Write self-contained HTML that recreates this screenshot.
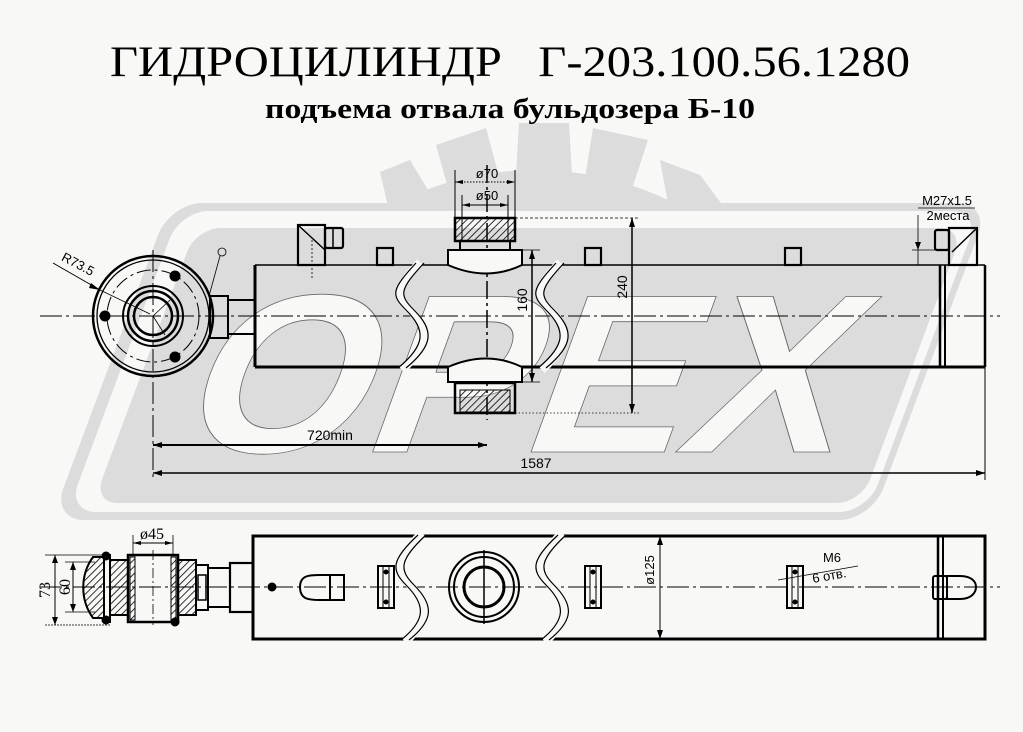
<!DOCTYPE html>
<html><head><meta charset="utf-8"><style>
html,body{margin:0;padding:0;background:#f8f8f6;width:1023px;height:732px;overflow:hidden;}
svg{display:block}
</style></head><body>
<svg width="1023" height="732" viewBox="0 0 1023 732" xmlns="http://www.w3.org/2000/svg" font-family="Liberation Sans, DejaVu Sans, sans-serif">
<defs>
<clipPath id="gc"><rect x="0" y="0" width="1023" height="215"/></clipPath>
<pattern id="h" width="5" height="5" patternUnits="userSpaceOnUse" patternTransform="rotate(45)"><line x1="0" y1="0" x2="0" y2="5" stroke="#000" stroke-width="1.6"/></pattern>
</defs>
<rect width="1023" height="732" fill="#f8f8f6"/>
<g clip-path="url(#gc)" fill="#dcdcdc">
<circle cx="535" cy="480" r="310"/>
<polygon points="519,123 569,123 572,175 516,175"/>
<polygon points="436,145 486,128 500,180 450,195"/>
<polygon points="593,128 648,140 630,195 585,178"/>
<polygon points="380,172 410,160 440,210 390,215"/>
<polygon points="660,160 700,175 730,215 670,215"/>
</g>
<g transform="translate(170,203) skewX(-20.5)"><rect x="0" y="0" width="820" height="317" rx="32" fill="#dcdcdc"/></g>
<g transform="translate(180,211) skewX(-20.5)"><rect x="0" y="0" width="800" height="301" rx="28" fill="#f8f8f6"/></g>
<g transform="translate(196,228) skewX(-20.5)"><rect x="0" y="0" width="768" height="275" rx="24" fill="#dcdcdc"/></g>
<g transform="translate(172,452) skewX(-20)">
<text x="0" y="0" font-size="226" font-weight="bold" fill="#f8f8f6" stroke="#666" stroke-width="0.8" textLength="660" lengthAdjust="spacingAndGlyphs">OPEX</text>
</g>

<text x="110" y="76" font-family="Liberation Serif, serif" font-size="43" fill="#000" textLength="800" lengthAdjust="spacingAndGlyphs" xml:space="preserve">ГИДРОЦИЛИНДР   Г-203.100.56.1280</text>
<text x="265" y="118" font-family="Liberation Serif, serif" font-size="29" font-weight="bold" fill="#000" textLength="490" lengthAdjust="spacingAndGlyphs">подъема отвала бульдозера Б-10</text>

<g fill="none" stroke="#000">
<line x1="40" y1="316" x2="1000" y2="316" stroke-width="1" stroke-dasharray="22,4,3,4"/>
<line x1="153" y1="250" x2="153" y2="480" stroke-width="1" stroke-dasharray="22,4,3,4"/>
<line x1="487" y1="165" x2="487" y2="420" stroke-width="1.5" stroke-dasharray="18,4,3,4"/>
<circle cx="153" cy="316" r="60" stroke-width="2.5"/>
<circle cx="153" cy="316" r="56" stroke-width="1.3"/>
<circle cx="153" cy="316" r="46" stroke-width="1" stroke-dasharray="14,4,3,4"/>
<circle cx="153" cy="316" r="30" stroke-width="2"/>
<circle cx="153" cy="316" r="25" stroke-width="2.5"/>
<circle cx="153" cy="316" r="19" stroke-width="2.5"/>
<line x1="153" y1="316" x2="170" y2="300" stroke-width="0.8"/>
<line x1="153" y1="316" x2="165" y2="335" stroke-width="0.8"/>
<circle cx="175" cy="276" r="5" fill="#000"/>
<circle cx="105" cy="316" r="5" fill="#000"/>
<circle cx="175" cy="357" r="5" fill="#000"/>
<line x1="53" y1="263" x2="100" y2="290" stroke-width="1"/>
<line x1="100" y1="290" x2="150" y2="314" stroke-width="0.8"/>
<circle cx="222" cy="252" r="4" stroke-width="0.8"/>
<line x1="220" y1="256" x2="209" y2="296" stroke-width="0.8"/>
<rect x="210" y="296" width="18" height="42" stroke-width="2"/>
<line x1="210" y1="316" x2="228" y2="316" stroke-width="1"/>
<rect x="228" y="300" width="27" height="34" stroke-width="2"/>
<line x1="255" y1="265" x2="985" y2="265" stroke-width="1.5"/>
<line x1="255" y1="367" x2="985" y2="367" stroke-width="3"/>
<line x1="255" y1="265" x2="255" y2="367" stroke-width="3"/>
<line x1="985" y1="265" x2="985" y2="367" stroke-width="2.5"/>
<line x1="940" y1="265" x2="940" y2="367" stroke-width="2.5"/>
<line x1="945" y1="265" x2="945" y2="367" stroke-width="2"/>
<g stroke-width="8" stroke="#f8f8f6">
<path d="M420,262 C395,290 395,295 410,310 C430,330 430,345 402,370"/>
<path d="M560,262 C535,290 535,295 550,310 C570,330 570,345 542,370"/>
</g>
<g stroke-width="1.2">
<path d="M416,263 C391,290 391,295 406,310 C426,330 426,345 398,368"/>
<path d="M424,263 C399,290 399,295 414,310 C434,330 434,345 406,368"/>
<path d="M556,263 C531,290 531,295 546,310 C566,330 566,345 538,368"/>
<path d="M564,263 C539,290 539,295 554,310 C574,330 574,345 546,368"/>
</g>
<rect x="455" y="218" width="60" height="23" fill="url(#h)" stroke-width="2.5"/>
<rect x="460" y="241" width="50" height="9" stroke-width="2"/>
<path d="M448,250 H522 V265 Q487,282 448,265 Z" fill="#f8f8f6" stroke-width="2"/>
<path d="M448,382 H522 V367 Q487,350 448,367 Z" fill="#f8f8f6" stroke-width="2"/>
<rect x="455" y="383" width="60" height="30" stroke-width="2.5"/>
<rect x="460" y="390" width="50" height="22" fill="url(#h)" stroke-width="1"/>
<rect x="298" y="225" width="27" height="40" stroke-width="2.2"/>
<line x1="298" y1="225" x2="325" y2="250" stroke-width="1.5"/>
<rect x="325" y="228" width="18" height="20" rx="2" stroke-width="2.2"/>
<line x1="333" y1="228" x2="333" y2="248" stroke-width="1.5"/>
<line x1="312" y1="240" x2="312" y2="280" stroke-width="0.8" stroke-dasharray="2,2"/>
<rect x="377" y="248" width="16" height="17" stroke-width="2.2"/>
<rect x="585" y="248" width="16" height="17" stroke-width="2.2"/>
<rect x="785" y="248" width="16" height="17" stroke-width="2.2"/>
<rect x="935" y="230" width="14" height="20" rx="2" stroke-width="2.2"/>
<rect x="949" y="228" width="28" height="37" stroke-width="2.2"/>
<line x1="977" y1="228" x2="952" y2="252" stroke-width="1.5"/>
<line x1="455" y1="170" x2="455" y2="218" stroke-width="1"/>
<line x1="515" y1="170" x2="515" y2="218" stroke-width="1"/>
<line x1="455" y1="182" x2="515" y2="182" stroke-width="0.9" stroke-dasharray="1.5,1.5"/>
<line x1="462" y1="195" x2="462" y2="241" stroke-width="1"/>
<line x1="508" y1="195" x2="508" y2="241" stroke-width="1"/>
<line x1="462" y1="205" x2="508" y2="205" stroke-width="1"/>
<line x1="515" y1="218" x2="640" y2="218" stroke-width="0.8" stroke-dasharray="3,2"/>
<line x1="515" y1="413" x2="640" y2="413" stroke-width="0.8" stroke-dasharray="1.5,2"/>
<line x1="632" y1="218" x2="632" y2="413" stroke-width="1.5"/>
<line x1="522" y1="250" x2="540" y2="250" stroke-width="0.8"/>
<line x1="522" y1="382" x2="540" y2="382" stroke-width="0.8"/>
<line x1="532" y1="250" x2="532" y2="382" stroke-width="1.5"/>
<line x1="153" y1="445" x2="487" y2="445" stroke-width="2"/>
<line x1="153" y1="473" x2="985" y2="473" stroke-width="1.5"/>
<line x1="985" y1="367" x2="985" y2="480" stroke-width="1"/>
<line x1="918" y1="215" x2="918" y2="265" stroke-width="0.8"/>
<line x1="918" y1="208" x2="975" y2="208" stroke-width="0.8"/>
<line x1="912" y1="250" x2="935" y2="250" stroke-width="0.8"/>

<line x1="40" y1="587" x2="1000" y2="587" stroke-width="1" stroke-dasharray="22,4,3,4"/>
<rect x="253" y="536" width="732" height="103" stroke-width="3"/>
<line x1="938" y1="536" x2="938" y2="639" stroke-width="2.5"/>
<line x1="943" y1="536" x2="943" y2="639" stroke-width="2"/>
<g stroke-width="8" stroke="#f8f8f6">
<path d="M422,533 C395,560 395,570 410,585 C430,605 430,620 405,642"/>
<path d="M562,533 C535,560 535,570 550,585 C570,605 570,620 545,642"/>
</g>
<g stroke-width="1.2">
<path d="M418,535 C391,560 391,570 406,585 C426,605 426,620 401,640"/>
<path d="M426,535 C399,560 399,570 414,585 C434,605 434,620 409,640"/>
<path d="M558,535 C531,560 531,570 546,585 C566,605 566,620 541,640"/>
<path d="M566,535 C539,560 539,570 554,585 C574,605 574,620 549,640"/>
</g>
<circle cx="484" cy="587" r="35" stroke-width="2"/>
<circle cx="484" cy="587" r="30" stroke-width="2"/>
<circle cx="484" cy="587" r="20" stroke-width="3"/>
<line x1="484" y1="550" x2="484" y2="624" stroke-width="1.5"/>
<circle cx="272" cy="587" r="4" fill="#000"/>
<path d="M300,587 C300,575 310,575 320,575 H330 V600 H320 C310,600 300,600 300,587 Z" stroke-width="2"/>
<rect x="330" y="575" width="14" height="25" stroke-width="2"/>
<g stroke-width="2">
<rect x="378" y="566" width="16" height="42"/>
<rect x="585" y="566" width="16" height="42"/>
<rect x="787" y="566" width="16" height="42"/>
</g>
<g stroke-width="1">
<line x1="383" y1="566" x2="383" y2="608"/><line x1="389" y1="566" x2="389" y2="608"/>
<line x1="590" y1="566" x2="590" y2="608"/><line x1="596" y1="566" x2="596" y2="608"/>
<line x1="792" y1="566" x2="792" y2="608"/><line x1="798" y1="566" x2="798" y2="608"/>
</g>
<g fill="#000" stroke="none">
<circle cx="386" cy="572" r="2.5"/><circle cx="386" cy="602" r="2.5"/>
<circle cx="593" cy="572" r="2.5"/><circle cx="593" cy="602" r="2.5"/>
<circle cx="795" cy="572" r="2.5"/><circle cx="795" cy="602" r="2.5"/>
</g>
<rect x="933" y="576" width="14" height="23" rx="2" stroke-width="2"/>
<path d="M947,576 H960 C972,576 976,582 976,587 C976,592 972,599 960,599 H947 Z" stroke-width="2"/>
<path d="M93,557 C80,575 80,600 93,618 H104 V557 Z" fill="url(#h)" stroke-width="2"/>
<rect x="104" y="555" width="6" height="67" stroke-width="2"/>
<rect x="110" y="560" width="18" height="55" fill="url(#h)" stroke-width="2"/>
<rect x="128" y="555" width="50" height="67" stroke-width="2.5"/>
<rect x="130" y="557" width="5" height="63" fill="url(#h)" stroke-width="1"/>
<rect x="171" y="557" width="5" height="63" fill="url(#h)" stroke-width="1"/>
<rect x="178" y="560" width="18" height="55" fill="url(#h)" stroke-width="2"/>
<rect x="196" y="565" width="12" height="45" stroke-width="2"/>
<rect x="198" y="575" width="8" height="25" stroke-width="1.5"/>
<rect x="208" y="568" width="22" height="39" stroke-width="2"/>
<rect x="230" y="563" width="23" height="49" stroke-width="2.2"/>
<line x1="153" y1="550" x2="153" y2="625" stroke-width="0.8" stroke-dasharray="10,3,2,3"/>
<circle cx="106" cy="556" r="4" fill="#000"/><circle cx="106" cy="620" r="4" fill="#000"/>
<circle cx="175" cy="622" r="4" fill="#000"/>
<line x1="45" y1="555" x2="110" y2="555" stroke-width="0.8"/>
<line x1="45" y1="625" x2="110" y2="625" stroke-width="0.8" stroke-dasharray="2,1"/>
<line x1="55" y1="555" x2="55" y2="625" stroke-width="1"/>
<line x1="65" y1="562" x2="95" y2="562" stroke-width="0.8"/>
<line x1="65" y1="612" x2="95" y2="612" stroke-width="0.8"/>
<line x1="73" y1="562" x2="73" y2="612" stroke-width="1"/>
<line x1="133" y1="535" x2="133" y2="555" stroke-width="0.8"/>
<line x1="173" y1="535" x2="173" y2="555" stroke-width="0.8"/>
<line x1="133" y1="543" x2="173" y2="543" stroke-width="1"/>
<line x1="660" y1="536" x2="660" y2="639" stroke-width="1"/>
<line x1="778" y1="580" x2="858" y2="566" stroke-width="0.8"/>
</g>

<g fill="#000">
<polygon points="100,290 91,283 89,288"/>
<polygon points="153,445 162,442 162,448"/><polygon points="487,445 478,442 478,448"/>
<polygon points="153,473 162,470 162,476"/><polygon points="985,473 976,470 976,476"/>
<polygon points="632,218 629,227 635,227"/><polygon points="632,413 629,404 635,404"/>
<polygon points="532,250 529,259 535,259"/><polygon points="532,382 529,373 535,373"/>
<polygon points="455,182 463,180 463,184"/><polygon points="515,182 507,180 507,184"/>
<polygon points="462,205 470,203 470,207"/><polygon points="508,205 500,203 500,207"/>
<polygon points="660,536 657,545 663,545"/><polygon points="660,639 657,630 663,630"/>
<polygon points="55,555 52,563 58,563"/><polygon points="55,625 52,617 58,617"/>
<polygon points="73,562 70,570 76,570"/><polygon points="73,612 70,604 76,604"/>
<polygon points="133,543 141,541 141,545"/><polygon points="173,543 165,541 165,545"/>
<polygon points="918,250 915,242 921,242"/>
</g>

<g fill="#000" font-size="13">
<text x="487" y="178" text-anchor="middle">ø70</text>
<text x="487" y="200" text-anchor="middle">ø50</text>
<text x="330" y="440" text-anchor="middle" font-size="14">720min</text>
<text x="536" y="468" text-anchor="middle" font-size="14">1587</text>
<text transform="translate(527,300) rotate(-90)" text-anchor="middle" font-size="14">160</text>
<text transform="translate(627,287) rotate(-90)" text-anchor="middle" font-size="14">240</text>
<text transform="translate(76,268) rotate(28)" text-anchor="middle" font-size="13">R73.5</text>
<text x="947" y="205" text-anchor="middle" font-size="13">M27x1.5</text>
<text x="948" y="220" text-anchor="middle" font-size="13">2места</text>
<text x="152" y="539" text-anchor="middle" font-family="Liberation Serif, serif" font-size="16">ø45</text>
<text transform="translate(50,590) rotate(-90)" text-anchor="middle" font-family="Liberation Serif, serif" font-size="16">73</text>
<text transform="translate(70,587) rotate(-90)" text-anchor="middle" font-family="Liberation Serif, serif" font-size="16">60</text>
<text transform="translate(654,570) rotate(-90)" text-anchor="middle" font-size="13">ø125</text>
<text x="832" y="562" text-anchor="middle" font-size="13">M6</text>
<text transform="translate(830,580) rotate(-10)" text-anchor="middle" font-size="13">6 отв.</text>
</g>
</svg>
</body></html>
